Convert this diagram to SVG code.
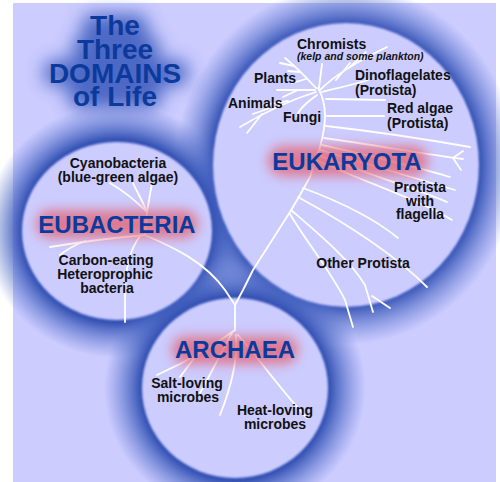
<svg xmlns="http://www.w3.org/2000/svg" width="500" height="482" viewBox="0 0 500 482">
<defs>
<radialGradient id="ringEuk" cx="0.5" cy="0.5" r="0.5">
<stop offset="0.78" stop-color="#3452b4" stop-opacity="1"/>
<stop offset="0.88" stop-color="#4a68c4" stop-opacity="0.55"/>
<stop offset="1" stop-color="#6078d0" stop-opacity="0"/>
</radialGradient>
<radialGradient id="ringSm" cx="0.5" cy="0.5" r="0.5">
<stop offset="0.72" stop-color="#3452b4" stop-opacity="1"/>
<stop offset="0.85" stop-color="#4a68c4" stop-opacity="0.55"/>
<stop offset="1" stop-color="#6078d0" stop-opacity="0"/>
</radialGradient>
<filter id="blurBig" x="-50%" y="-50%" width="200%" height="200%"><feGaussianBlur stdDeviation="9"/></filter>
<filter id="blurRed" x="-50%" y="-80%" width="200%" height="260%"><feGaussianBlur stdDeviation="6"/></filter>
<filter id="blurDisc" x="-10%" y="-10%" width="120%" height="120%"><feGaussianBlur stdDeviation="1.2"/></filter>
</defs>
<style>
.disc{fill:#ccccff;filter:url(#blurDisc)}
.glow{fill:#e4606e;opacity:0.75;filter:url(#blurRed)}
.dom{font-family:"Liberation Sans",Arial,sans-serif;font-weight:bold;font-size:24px;fill:#0a3a9e;text-anchor:middle}
.lab{font-family:"Liberation Sans",Arial,sans-serif;font-weight:bold;font-size:14px;fill:#111111}
.mid{text-anchor:middle}
.title{font-family:"Liberation Sans",Arial,sans-serif;font-weight:bold;font-size:28px;fill:#0b3a9c;text-anchor:middle}
.tglow{fill:#3f5fc0;filter:url(#blurBig);opacity:0.9}
.tree{fill:none;stroke:#ffffff;stroke-width:1.8;stroke-linecap:round;stroke-linejoin:round}
</style>
<rect x="13" y="3" width="483" height="479" fill="#ccccff"/>

<!-- rings -->
<ellipse cx="346" cy="165" rx="171" ry="180" fill="url(#ringEuk)"/>
<ellipse cx="117" cy="231" rx="133" ry="127" fill="url(#ringSm)"/>
<ellipse cx="235" cy="388" rx="131" ry="128" fill="url(#ringSm)"/>

<!-- title -->
<g id="title">
<g class="tglow">
<rect x="82" y="14" width="66" height="26" rx="10"/>
<rect x="72" y="36" width="88" height="26" rx="10"/>
<rect x="44" y="60" width="144" height="26" rx="10"/>
<rect x="68" y="83" width="94" height="26" rx="10"/>
</g>
<text class="title"><tspan x="115" y="35">The</tspan><tspan x="115" y="59">Three</tspan><tspan x="115" y="83">DOMAINS</tspan><tspan x="115" y="106">of Life</tspan></text>
</g>

<!-- discs -->
<ellipse class="disc" cx="346" cy="165" rx="133" ry="142"/>
<ellipse class="disc" cx="117" cy="231" rx="95" ry="89"/>
<ellipse class="disc" cx="235" cy="388" rx="93" ry="90"/>

<g id="connectors" class="tree">
<!-- stems joining the domains -->
<path d="M145,235 C175,248 205,262 225,290 L235,305"/>
<path d="M235,330 L235,305 L243,290 L253,270 L290,212 L300,195 L310,177 L320,147 C326,125 328,105 318,88"/>
<!-- eukaryota lower -->
<path d="M303,188 C330,198 370,215 398,238"/>
<path d="M298,197 C340,220 390,250 427,287"/>
<path d="M291,210 C320,235 350,260 365,285 L373,312"/>
<path d="M372,296 L390,308"/>
<path d="M290,214 C305,240 330,270 345,300 L353,327"/>
<!-- eukaryota right fan -->
<path d="M326,99 L385,100"/>
<path d="M327,116 L384,116"/>
<path d="M326,126 C380,132 430,140 470,147"/>
<path d="M324,138 C380,146 430,155 463,159"/>
<path d="M453,158 L463,151"/>
<path d="M453,158 L461,170"/>
<path d="M322,145 C380,158 420,168 450,177"/>
<path d="M320,150 C370,165 420,180 455,190"/>
<path d="M318,155 C370,175 420,190 447,202"/>
<path d="M316,160 C360,180 420,200 452,220"/>
<!-- eukaryota upper -->
<path d="M320,90 C335,75 360,60 387,47"/>
<path d="M350,67 L366,52"/>
<path d="M336,80 L350,63"/>
<path d="M319,88 L322,64"/>
<path d="M322,92 C335,88 350,86 368,80"/>
<path d="M316,88 C305,76 295,66 285,58"/>
<path d="M300,72 L288,71"/>
<path d="M294,66 L280,63"/>
<path d="M306,79 L292,83"/>
<path d="M315,90 L277,90"/>
<path d="M298,90 L283,97"/>
<path d="M316,92 C290,100 265,112 240,127"/>
<path d="M270,108 L253,114"/>
<path d="M262,114 L247,133"/>
<path d="M288,101 L263,105"/>
<path d="M317,95 C306,103 299,109 297,116"/>
<!-- eubacteria -->
<path d="M145,235 L147,212"/>
<path d="M147,212 C135,200 122,190 110,183"/>
<path d="M147,212 C142,200 137,192 133,183"/>
<path d="M147,212 L152,183"/>
<path d="M145,235 C110,238 80,242 50,247"/>
<path d="M85,241 C75,245 66,250 60,255"/>
<path d="M140,236 C130,250 126,265 125,290 L125,322"/>
<!-- archaea -->
<path d="M235,330 C215,345 190,360 157,375"/>
<path d="M195,357 L180,377"/>
<path d="M232,333 C220,355 210,375 200,393"/>
<path d="M236,335 C238,360 230,390 220,415"/>
<path d="M238,335 C260,360 285,395 307,418"/>
</g>

<g id="eukaryota">
<rect class="glow" x="268" y="146" width="160" height="30" rx="15"/>
<text class="dom" x="347" y="170">EUKARYOTA</text>
<text class="lab" x="297" y="49">Chromists</text>
<text class="lab" x="297" y="60" style="font-size:10.5px;font-style:italic">(kelp and some plankton)</text>
<text class="lab" x="254" y="83">Plants</text>
<text class="lab" x="228" y="108">Animals</text>
<text class="lab" x="283" y="122">Fungi</text>
<text class="lab" x="355" y="80">Dinoflagelates</text>
<text class="lab" x="355" y="95">(Protista)</text>
<text class="lab" x="387" y="113">Red algae</text>
<text class="lab" x="387" y="128">(Protista)</text>
<text class="lab mid" x="420" y="192">Protista</text>
<text class="lab mid" x="420" y="206">with</text>
<text class="lab mid" x="420" y="219">flagella</text>
<text class="lab mid" x="363" y="268">Other Protista</text>
</g>

<g id="eubacteria">
<rect class="glow" x="36" y="210" width="162" height="28" rx="14"/>
<text class="dom" x="117" y="233">EUBACTERIA</text>
<text class="lab mid" x="118" y="168">Cyanobacteria</text>
<text class="lab mid" x="118" y="182">(blue-green algae)</text>
<text class="lab mid" x="106" y="265">Carbon-eating</text>
<text class="lab mid" x="105" y="279">Heteroprophic</text>
<text class="lab mid" x="107" y="293">bacteria</text>
</g>

<g id="archaea">
<rect class="glow" x="172" y="336" width="126" height="28" rx="14"/>
<text class="dom" x="235" y="358">ARCHAEA</text>
<text class="lab mid" x="187" y="388">Salt-loving</text>
<text class="lab mid" x="188" y="402">microbes</text>
<text class="lab mid" x="275" y="415">Heat-loving</text>
<text class="lab mid" x="275" y="429">microbes</text>
</g>
</svg>
